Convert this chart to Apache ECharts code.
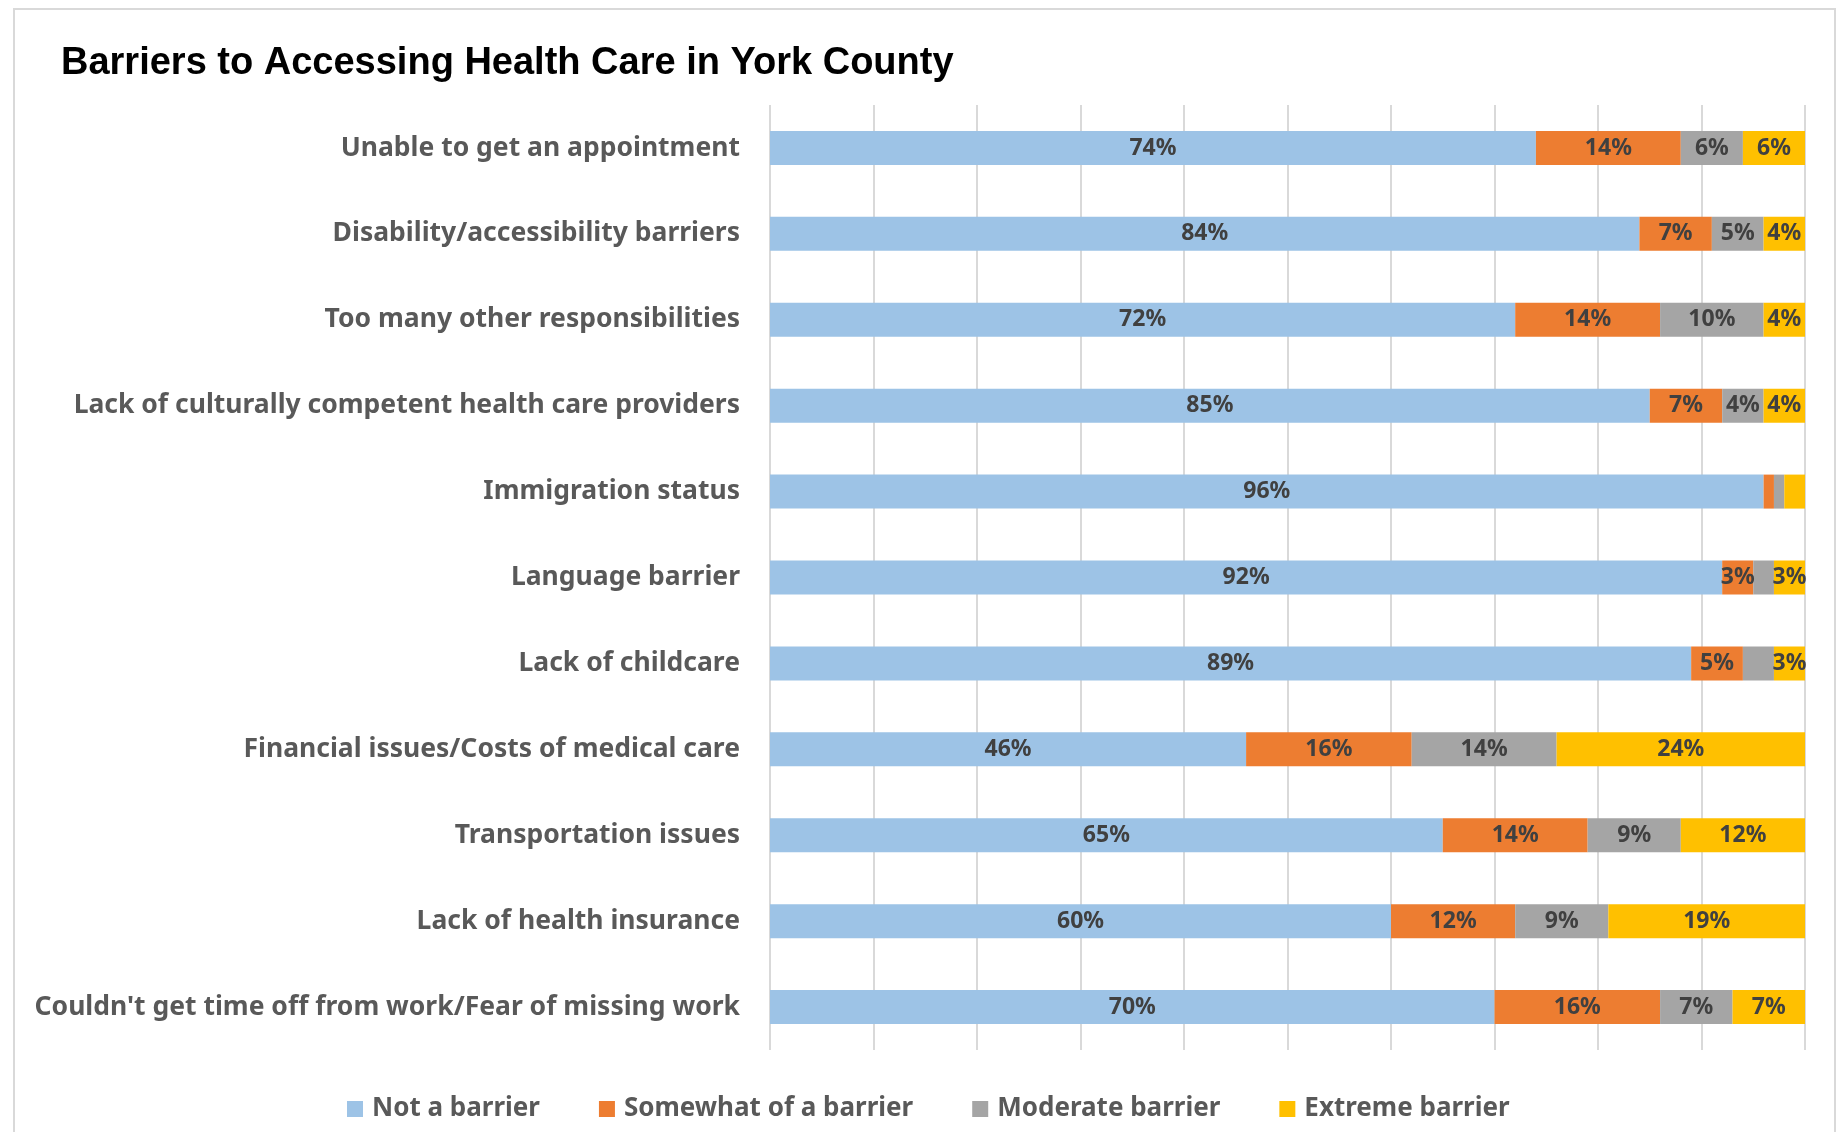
<!DOCTYPE html>
<html>
<head>
<meta charset="utf-8">
<title>Barriers to Accessing Health Care in York County</title>
<script src="https://cdn.jsdelivr.net/npm/echarts@6/dist/echarts.min.js"></script>
<style>
    html, body { margin: 0; padding: 0; background: #fff; }
    #chart { width: 1839px; height: 1143px; }
</style>
</head>
<body>
<div id="chart"></div>
<script>
// categories, top to bottom
var categories = [
    'Unable to get an appointment',
    'Disability/accessibility barriers',
    'Too many other responsibilities',
    'Lack of culturally competent health care providers',
    'Immigration status',
    'Language barrier',
    'Lack of childcare',
    'Financial issues/Costs of medical care',
    'Transportation issues',
    'Lack of health insurance',
    "Couldn't get time off from work/Fear of missing work"
];

var seriesNames = ['Not a barrier', 'Somewhat of a barrier', 'Moderate barrier', 'Extreme barrier'];

var notBarrier = [74, 84, 72, 85, 96, 92, 89, 46, 65, 60, 70];
var somewhatBarrier = [14, 7, 14, 7, 1, 3, 5, 16, 14, 12, 16];
var moderateBarrier = [6, 5, 10, 4, 1, 2, 3, 14, 9, 9, 7];
var extremeBarrier = [6, 4, 4, 4, 2, 3, 3, 24, 12, 19, 7];

var xTicks = [0, 10, 20, 30, 40, 50, 60, 70, 80, 90, 100];

// labels that are left off in the original (category index per series)
var hiddenLabels = [[], [4], [4, 5, 6], [4]];

var colors = ['#9DC3E6', '#ED7D31', '#A5A5A5', '#FFC000'];

(function () {
    var chart = echarts.init(document.getElementById('chart'));
    var values = [notBarrier, somewhatBarrier, moderateBarrier, extremeBarrier];

    var series = seriesNames.map(function (name, s) {
        return {
            name: name,
            type: 'bar',
            stack: 'total',
            barWidth: 34,
            itemStyle: { color: colors[s] },
            label: {
                show: true,
                position: 'inside',
                color: '#404040',
                fontFamily: 'Noto Sans',
                fontWeight: 'bold',
                fontSize: 23,
                formatter: '{c}%'
            },
            data: values[s].map(function (v, i) {
                var item = { value: v };
                if (hiddenLabels[s].indexOf(i) >= 0) {
                    item.label = { show: false };
                }
                return item;
            })
        };
    });

    var option = {
        animation: false,
        title: {
            text: 'Barriers to Accessing Health Care in York County',
            left: 56,
            top: 40,
            textStyle: {
                fontFamily: 'Liberation Sans',
                fontWeight: 'bold',
                fontSize: 38,
                color: '#000'
            }
        },
        legend: {
            data: seriesNames,
            bottom: 16,
            left: 342,
            itemWidth: 16,
            itemHeight: 16,
            itemGap: 59,
            icon: 'rect',
            textStyle: {
                fontFamily: 'Noto Sans',
                fontWeight: 'bold',
                fontSize: 26,
                color: '#595959',
                padding: [0, 0, 0, 4]
            }
        },
        grid: {
            left: 770,
            right: 34,
            top: 105,
            bottom: 93
        },
        xAxis: {
            type: 'value',
            min: xTicks[0],
            max: xTicks[xTicks.length - 1],
            interval: 10,
            axisLabel: { show: false },
            axisLine: { show: false },
            axisTick: { show: false },
            splitLine: { lineStyle: { color: '#D9D9D9', width: 2 } }
        },
        yAxis: {
            type: 'category',
            data: categories,
            inverse: true,
            axisLine: { show: false },
            axisTick: { show: false },
            axisLabel: {
                margin: 30,
                fontFamily: 'Noto Sans',
                fontWeight: 'bold',
                fontSize: 26.5,
                color: '#595959'
            }
        },
        graphic: [{
            type: 'polyline',
            shape: { points: [[14, 1132], [14, 9], [1835, 9], [1835, 1132]] },
            style: { stroke: '#D9D9D9', lineWidth: 2, fill: null },
            silent: true
        }],
        series: series
    };

    chart.setOption(option);
})();
</script>
</body>
</html>
